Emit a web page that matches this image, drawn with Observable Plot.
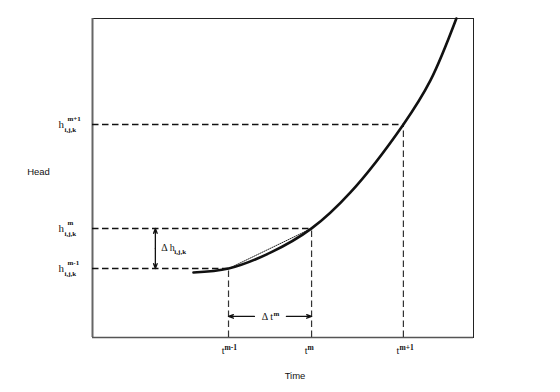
<!DOCTYPE html>
<html>
<head>
<meta charset="utf-8">
<script src="https://cdn.jsdelivr.net/npm/d3@7"></script>
<script src="https://cdn.jsdelivr.net/npm/@observablehq/plot@0.6"></script>
<style>
  html, body { margin: 0; padding: 0; background: #fff; }
  #chart svg { display: block; }
</style>
</head>
<body>
<div id="chart"></div>
<script>
// Step times (t^{m-1}, t^m, t^{m+1}) and heads at those times
const stepTimes = [35.7, 57.5, 81.6];
const stepHeads = [21.6, 34.2, 66.8];
const stepSup = ["m-1", "m", "m+1"];

// Head curve
const curveTime = [26.5, 35.7, 46.7, 57.5, 67.7, 81.6, 88.7, 95.5];
const curveHead = [20.4, 21.6, 26.6, 34.2, 45.5, 66.8, 80.6, 100];

// Annotation anchors (data units)
const deltaHX = 16.5;
const deltaTY = 6.6;
const deltaTGap = [42.5, 50.9];

const steps = stepTimes.map((t, i) => ({t, h: stepHeads[i], sup: stepSup[i]}));
const curve = curveTime.map((t, i) => ({t, h: curveHead[i]}));
const chord = [steps[0], steps[1]];
const hMid = (stepHeads[0] + stepHeads[1]) / 2;
const tMid = (stepTimes[0] + stepTimes[1]) / 2;

const serif = "Liberation Serif, Times New Roman, serif";
const sans = "Liberation Sans, Arial, sans-serif";

const chart = Plot.plot({
  width: 560,
  height: 392,
  marginLeft: 92,
  marginRight: 87,
  marginTop: 18,
  marginBottom: 55,
  x: {domain: [0, 100], axis: null},
  y: {domain: [0, 100], axis: null},
  style: {background: "#fff", overflow: "visible"},
  marks: [
    Plot.frame({stroke: "#222", strokeWidth: 1}),
    Plot.ruleX([0], {stroke: "#666", strokeWidth: 2}),
    Plot.ruleY([0], {stroke: "#555", strokeWidth: 1.4}),
    // horizontal dashed guides
    Plot.ruleY(steps, {y: "h", x1: () => 0, x2: "t", stroke: "#111", strokeWidth: 1.5, strokeDasharray: "6.5,3.5"}),
    // vertical dashed guides
    Plot.ruleX(steps, {x: "t", y1: () => 0, y2: "h", stroke: "#333", strokeWidth: 1.2, strokeDasharray: "6.5,3.5"}),
    // dotted chord
    Plot.line(chord, {x: "t", y: "h", stroke: "#111", strokeWidth: 0.9, strokeDasharray: "1,1.2"}),
    // head curve
    Plot.line(curve, {x: "t", y: "h", curve: "catmull-rom", stroke: "#111", strokeWidth: 2.6}),
    // delta h arrows
    Plot.arrow([stepHeads[1], stepHeads[0]], {
      x1: () => deltaHX, x2: () => deltaHX, y1: () => hMid, y2: d => d,
      stroke: "#111", strokeWidth: 1.3, headLength: 6, headAngle: 40
    }),
    // delta t arrows
    Plot.arrow([0, 1], {
      x1: i => deltaTGap[i], x2: i => stepTimes[i], y1: () => deltaTY, y2: () => deltaTY,
      stroke: "#111", strokeWidth: 1.3, headLength: 6, headAngle: 40
    }),
    // delta h label
    Plot.text(["Δ h"], {x: () => deltaHX, y: () => hMid, text: d => d, dx: 6, dy: -1, textAnchor: "start", fontFamily: serif, fontSize: 10, fill: "#111"}),
    Plot.text(["i,j,k"], {x: () => deltaHX, y: () => hMid, text: d => d, dx: 19, dy: 3, textAnchor: "start", fontFamily: serif, fontSize: 7, fontWeight: "bold", fill: "#111"}),
    // delta t label
    Plot.text(["Δ t"], {x: () => tMid, y: () => deltaTY, text: d => d, dx: 3, textAnchor: "end", fontFamily: serif, fontSize: 10, fill: "#111"}),
    Plot.text(["m"], {x: () => tMid, y: () => deltaTY, text: d => d, dx: 3.5, dy: -3, textAnchor: "start", fontFamily: serif, fontSize: 7, fontWeight: "bold", fill: "#111"}),
    // time tick labels
    Plot.text(steps, {x: "t", frameAnchor: "bottom", text: () => "t", dx: -4, dy: 16, textAnchor: "end", fontFamily: serif, fontSize: 10, fill: "#111"}),
    Plot.text(steps, {x: "t", frameAnchor: "bottom", text: "sup", dx: -4, dy: 12, textAnchor: "start", fontFamily: serif, fontSize: 7.5, fontWeight: "bold", fill: "#111"}),
    // head tick labels
    Plot.text(steps, {y: "h", frameAnchor: "left", text: () => "h", dx: -34, dy: 0, textAnchor: "start", fontFamily: serif, fontSize: 11, fill: "#111"}),
    Plot.text(steps, {y: "h", frameAnchor: "left", text: () => "i,j,k", dx: -28, dy: 5, textAnchor: "start", fontFamily: serif, fontSize: 7, fontWeight: "bold", fill: "#111"}),
    Plot.text(steps, {y: "h", frameAnchor: "left", text: "sup", dx: -25, dy: -6, textAnchor: "start", fontFamily: serif, fontSize: 7, fontWeight: "bold", fill: "#111"}),
    // axis titles
    Plot.text(["Head"], {frameAnchor: "left", text: d => d, dx: -54, dy: -6, textAnchor: "middle", fontFamily: sans, fontSize: 9.5, fill: "#111"}),
    Plot.text(["Time"], {frameAnchor: "bottom", text: d => d, dx: 12, dy: 41, textAnchor: "middle", fontFamily: sans, fontSize: 9.5, fill: "#111"})
  ]
});
document.getElementById("chart").append(chart);
</script>
</body>
</html>
